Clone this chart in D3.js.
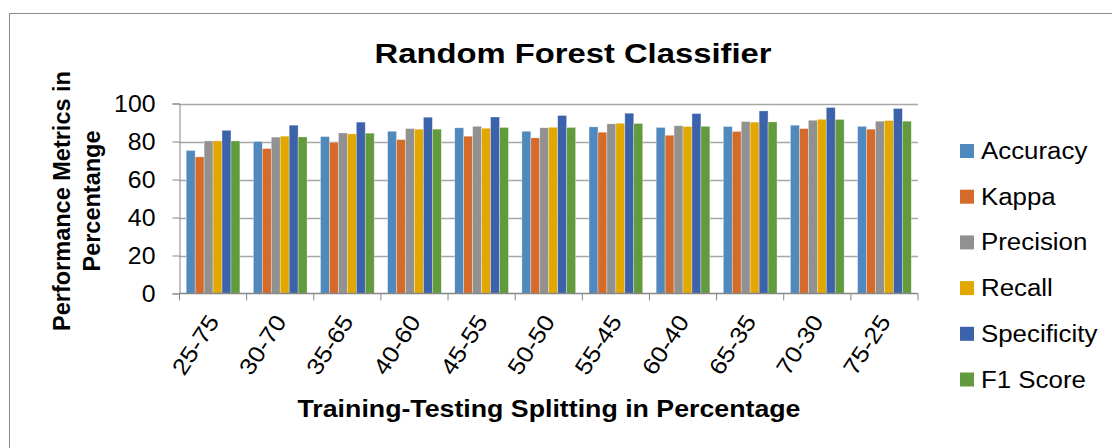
<!DOCTYPE html>
<html>
<head>
<meta charset="utf-8">
<script src="https://cdn.jsdelivr.net/npm/d3@7"></script>
<style>
	body { margin: 0; background: #fff; }
	text { font-family: "Liberation Sans", Arial, sans-serif; fill: #000; }
</style>
</head>
<body>
<div id="wrapper"></div>
<script>

// data

const splits = ["25-75", "30-70", "35-65", "40-60", "45-55", "50-50", "55-45", "60-40", "65-35", "70-30", "75-25"];
const metrics = ["Accuracy", "Kappa", "Precision", "Recall", "Specificity", "F1 Score"];

const accuracy    = [75.3, 80.0, 82.6, 85.4, 87.2, 85.4, 87.7, 87.4, 87.9, 88.6, 88.0];
const kappa       = [71.9, 76.3, 79.6, 81.0, 82.8, 81.9, 84.9, 83.3, 85.3, 86.8, 86.5];
const precision   = [80.3, 82.3, 84.5, 86.8, 88.0, 87.2, 89.3, 88.3, 90.5, 91.2, 90.7];
const recall      = [80.3, 82.8, 84.0, 86.5, 87.0, 87.5, 89.6, 87.9, 90.2, 91.7, 91.0];
const specificity = [85.9, 88.6, 90.2, 92.8, 92.9, 93.7, 94.9, 94.7, 96.1, 97.9, 97.4];
const f1Score     = [80.3, 82.4, 84.4, 86.5, 87.4, 87.4, 89.5, 88.0, 90.3, 91.6, 90.7];

const yTicks = [0, 20, 40, 60, 80, 100];

const seriesValues = [accuracy, kappa, precision, recall, specificity, f1Score];
const colors = ["#4f89bd", "#d46b2b", "#919191", "#e2a700", "#3b62ab", "#629a3e"];

// the source picture is stretched sideways, so horizontal text gets widened
function stretch(sel, k) {
	sel.each(function() {
		const w = this.getComputedTextLength();
		d3.select(this)
			.attr("textLength", w * k)
			.attr("lengthAdjust", "spacingAndGlyphs");
	});
}

function drawChart() {

	const width = 1112;
	const height = 448;
	const plot = { left: 179.5, right: 918, top: 103.5, bottom: 293.5 };

	const svg = d3.select("#wrapper")
		.append("svg")
		.attr("width", width)
		.attr("height", height);

	// chart frame (runs off the right and bottom edges)
	svg.append("rect")
		.attr("x", 9.5)
		.attr("y", 13.5)
		.attr("width", 1130)
		.attr("height", 460)
		.attr("fill", "none")
		.attr("stroke", "#8c8c8c")
		.attr("stroke-width", 1);

	// scales

	const x0 = d3.scaleBand()
		.domain(splits)
		.range([plot.left, plot.right]);

	const x1 = d3.scaleBand()
		.domain(metrics)
		.range([0, x0.bandwidth()])
		.paddingInner(0)
		.paddingOuter(0.75);

	const y = d3.scaleLinear()
		.domain([0, 100])
		.range([plot.bottom, plot.top]);

	// gridlines

	svg.append("g")
		.selectAll("line")
		.data(yTicks.filter(d => d > 0))
		.join("line")
		.attr("x1", plot.left)
		.attr("x2", plot.right)
		.attr("y1", d => Math.round(y(d)) + 0.5)
		.attr("y2", d => Math.round(y(d)) + 0.5)
		.attr("stroke", "#a6a6a6")
		.attr("stroke-width", 1.3);

	// bars

	const groups = svg.append("g")
		.selectAll("g")
		.data(seriesValues)
		.join("g")
		.attr("fill", (d, i) => colors[i]);

	groups.selectAll("rect")
		.data((vals, i) => vals.map((v, j) => ({ metric: metrics[i], split: splits[j], value: v })))
		.join("rect")
		.attr("x", d => x0(d.split) + x1(d.metric))
		.attr("width", x1.bandwidth())
		.attr("y", d => y(d.value))
		.attr("height", d => y(0) - y(d.value))
		.attr("stroke", "rgba(255,255,255,0.55)")
		.attr("stroke-width", 0.6);

	// axes

	const yAxis = svg.append("g")
		.attr("transform", `translate(${plot.left},0)`)
		.call(d3.axisLeft(y).tickValues(yTicks).tickSize(7).tickPadding(17));

	yAxis.select(".domain").attr("stroke", "#868686");
	yAxis.selectAll(".tick line").attr("stroke", "#868686");
	yAxis.selectAll(".tick text")
		.attr("font-size", 23)
		.attr("font-family", "Liberation Sans, Arial, sans-serif")
		.attr("dy", "0.35em")
		.call(stretch, 1.08);

	const xAxis = svg.append("g")
		.attr("transform", `translate(0,${plot.bottom})`);

	xAxis.append("line")
		.attr("x1", plot.left)
		.attr("x2", plot.right)
		.attr("stroke", "#868686")
		.attr("stroke-width", 1.3);

	xAxis.selectAll(".sep")
		.data(d3.range(splits.length + 1))
		.join("line")
		.attr("class", "sep")
		.attr("x1", i => plot.left + i * x0.step())
		.attr("x2", i => plot.left + i * x0.step())
		.attr("y1", 0)
		.attr("y2", 7)
		.attr("stroke", "#868686");

	xAxis.selectAll(".lbl")
		.data(splits)
		.join("text")
		.attr("class", "lbl")
		.attr("font-size", 23)
		.attr("text-anchor", "end")
		.attr("transform", d => `translate(${x0(d) + x0.bandwidth() / 2 + 7},${28}) rotate(-57)`)
		.text(d => d)
		.call(stretch, 1.12);

	// titles

	svg.append("text")
		.attr("x", 573)
		.attr("y", 62.5)
		.attr("text-anchor", "middle")
		.attr("font-size", 27)
		.attr("font-weight", "bold")
		.attr("textLength", 397)
		.attr("lengthAdjust", "spacingAndGlyphs")
		.text("Random Forest Classifier");

	svg.append("text")
		.attr("x", 549)
		.attr("y", 416.5)
		.attr("text-anchor", "middle")
		.attr("font-size", 24.5)
		.attr("font-weight", "bold")
		.attr("textLength", 503)
		.attr("lengthAdjust", "spacingAndGlyphs")
		.text("Training-Testing Splitting in Percentage");

	const yTitle = svg.append("text")
		.attr("transform", "translate(0,201) rotate(-90)")
		.attr("text-anchor", "middle")
		.attr("font-size", 23.5)
		.attr("font-weight", "bold");

	yTitle.append("tspan").attr("x", 0).attr("y", 70).text("Performance Metrics in");
	yTitle.append("tspan").attr("x", 0).attr("y", 100).text("Percentange");

	// legend

	const legend = svg.append("g")
		.selectAll("g")
		.data(metrics)
		.join("g")
		.attr("transform", (d, i) => `translate(960,${151 + i * 45.7})`);

	legend.append("rect")
		.attr("y", -7)
		.attr("width", 14)
		.attr("height", 14)
		.attr("fill", (d, i) => colors[i]);

	legend.append("text")
		.attr("x", 21)
		.attr("y", 8)
		.attr("font-size", 23.5)
		.text(d => d)
		.call(stretch, 1.1);
}

drawChart();
</script>
</body>
</html>
